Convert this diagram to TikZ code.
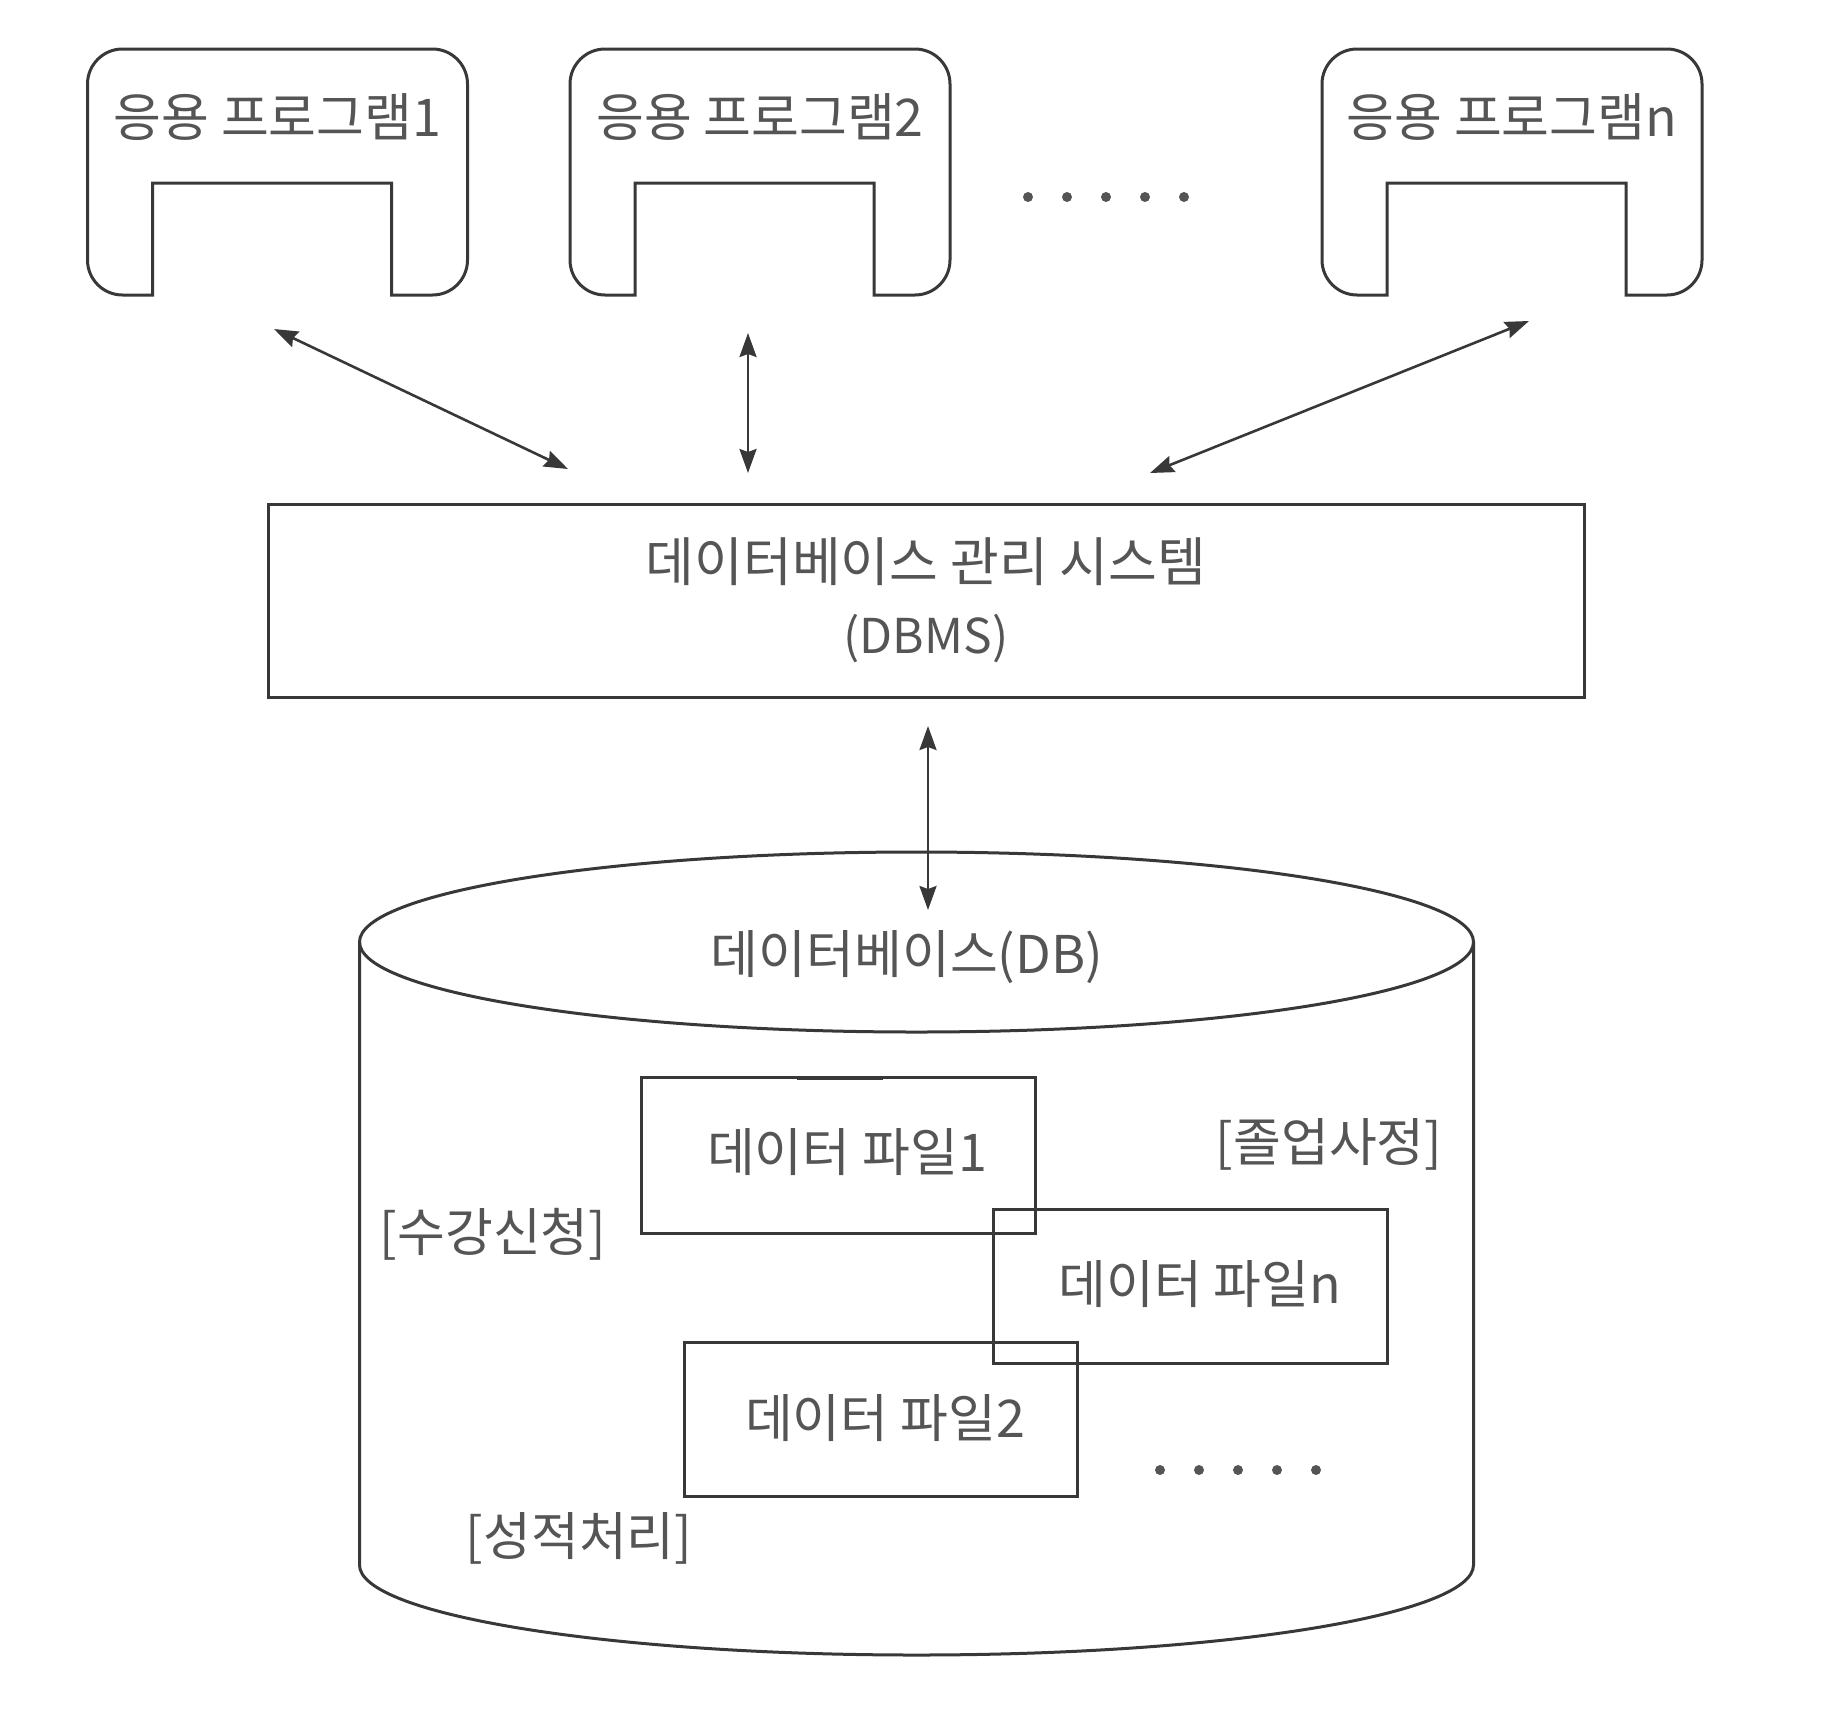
\documentclass[tikz,border=0pt]{standalone}
\usepackage{fontspec}
\setmainfont{Noto Sans CJK KR}
\usetikzlibrary{arrows.meta}
\definecolor{ln}{HTML}{383838}
\definecolor{tx}{HTML}{555555}
\tikzset{
  line/.style={draw=ln, line width=1.5pt},
  lbl/.style={text=tx, font=\fontsize{26pt}{31pt}\selectfont, inner sep=0pt, anchor=center},
  conn/.style={draw=ln, line width=1.3pt, {Stealth[length=12pt,width=8.5pt,inset=1.5pt]}-{Stealth[length=12pt,width=8.5pt,inset=1.5pt]}},
  filebox/.style={line, rectangle, inner sep=0pt, minimum width=197pt, minimum height=78pt},
  appshape/.pic={
    \draw[line] (65,183) -- (65,295) -- (35,295) .. controls (15.7,295) and (0,279.3) .. (0,260)
      -- (0,84) .. controls (0,64.7) and (15.7,49) .. (35,49)
      -- (345,49) .. controls (364.3,49) and (380,64.7) .. (380,84)
      -- (380,260) .. controls (380,279.3) and (364.3,295) .. (345,295)
      -- (304,295) -- (304,183) -- cycle;
  }
}
\begin{document}
\begin{tikzpicture}[x=0.5pt,y=-0.5pt]
\useasboundingbox (0,0) rectangle (1830,1708);

% application programs
\pic at (87.5,0) {appshape};
\pic at (570,0) {appshape};
\pic at (1322,0) {appshape};
\node[lbl] (app1) at (277.5,117) {응용 프로그램1};
\node[lbl] (app2) at (760,117) {응용 프로그램2};
\node[lbl] (appn) at (1512,117) {응용 프로그램n};

% dots between apps
\foreach \xx in {1028,1067,1106,1145,1184}
  \fill[tx] (\xx,197) circle[radius=2.5pt];

% DBMS
\node[line, rectangle, inner sep=0pt, minimum width=658pt, minimum height=96.5pt,
      text=tx, align=center, font=\fontsize{26.5pt}{36pt}\selectfont] (dbms) at (926,600.5)
      {데이터베이스 관리 시스템\\{\fontsize{24pt}{36pt}\selectfont (DBMS)}};

% connectors
\coordinate (a1) at (274,329);
\coordinate (b1) at (568,469);
\coordinate (a2) at (748,333);
\coordinate (b2) at (748,473);
\coordinate (a3) at (1529,321);
\coordinate (b3) at (1150,473);
\coordinate (a4) at (928,726);
\coordinate (b4) at (928,910);
\draw[conn] (a1) -- (b1);
\draw[conn] (a2) -- (b2);
\draw[conn] (a3) -- (b3);

% cylinder
\draw[line] (359.5,942) -- (359.5,1565) arc[start angle=180,end angle=360,x radius=278.5pt,y radius=45pt] -- (1473.5,942);
\draw[line] (916.5,942) ellipse[x radius=278.5pt,y radius=45pt];
\draw[conn] (a4) -- (b4);
\node[lbl] (db) at (907,957) {데이터베이스(DB)};

% data files
\node[filebox] (df1) at (838,1155) {};
\node[filebox, minimum height=77pt] (dfn) at (1190,1286) {};
\node[filebox, minimum width=196.5pt, minimum height=77pt] (df2) at (880.5,1419) {};
\draw[draw=ln, line width=2.4pt] (797,1078) -- (883,1078);
\node[lbl] (t1) at (847,1152) {데이터 파일1};
\node[lbl] (tn) at (1200,1284) {데이터 파일n};
\node[lbl] (t2) at (885,1418) {데이터 파일2};

\node[lbl] (grad) at (1329,1144) {[졸업사정]};
\node[lbl] (reg) at (493,1234) {[수강신청]};
\node[lbl] (grade) at (579,1538) {[성적처리]};

\foreach \xx in {1160,1199,1238,1277,1316}
  \fill[tx] (\xx,1470) circle[radius=2.5pt];
\end{tikzpicture}
\end{document}
